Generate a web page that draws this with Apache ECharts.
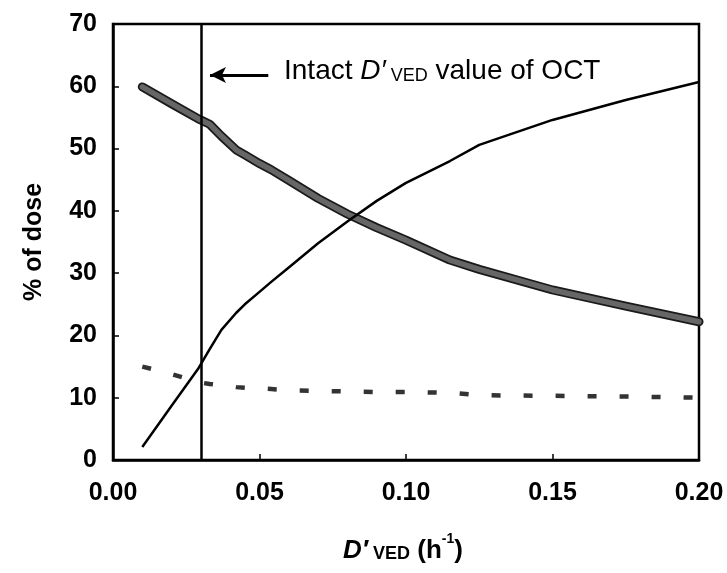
<!DOCTYPE html>
<html>
<head>
<meta charset="utf-8">
<script src="https://cdn.jsdelivr.net/npm/echarts@6/dist/echarts.min.js"></script>
<style>
  html, body { margin: 0; padding: 0; background: #fff; }
  #chart { width: 727px; height: 573px; }
</style>
</head>
<body>
<div id="chart"></div>
<script>
// Elimination rate constant D'VED (h^-1)
const dVed = [0.01, 0.02, 0.029, 0.033, 0.037, 0.042, 0.045, 0.05, 0.054, 0.06,
              0.07, 0.08, 0.09, 0.10, 0.115, 0.125, 0.15, 0.175, 0.20];
// % of dose, rising curve (thin black)
const risingPct = [2.1, 8.7, 14.6, 17.8, 20.9, 23.6, 25.0, 27.0, 28.6, 30.9,
                   34.8, 38.3, 41.6, 44.5, 48.0, 50.6, 54.6, 57.8, 60.7];
// % of dose, falling curve (thick grey)
const fallingPct = [59.9, 57.2, 54.8, 53.9, 52.0, 49.8, 49.0, 47.6, 46.6, 44.9,
                    42.0, 39.5, 37.3, 35.3, 32.1, 30.6, 27.3, 24.7, 22.2];
// % of dose, dashed curve
const dashedPct = [15.0, 13.8, 12.5, 12.2, 12.0, 11.7, 11.6, 11.5, 11.4, 11.2,
                   11.1, 11.0, 10.9, 10.9, 10.8, 10.4, 10.3, 10.2, 10.0];
// Intact D'VED value of OCT
const intactDVed = 0.0289;
const xTicks = [0, 0.05, 0.10, 0.15, 0.20];
const yTicks = [0, 10, 20, 30, 40, 50, 60, 70];

const pairs = ys => dVed.map((x, i) => [x, ys[i]]);
const FONT = '"Liberation Sans", Arial, sans-serif';

const chart = echarts.init(document.getElementById('chart'), null, { renderer: 'canvas' });

chart.setOption({
  backgroundColor: '#ffffff',
  animation: false,
  grid: {
    left: 113, right: 28, top: 24, bottom: 113,
    show: true, borderColor: '#000', borderWidth: 2.5, backgroundColor: 'transparent'
  },
  xAxis: {
    type: 'value',
    min: xTicks[0], max: xTicks[xTicks.length - 1], interval: 0.05,
    axisLine: { show: true, lineStyle: { color: '#000', width: 2.5 } },
    axisTick: { show: true, inside: true, length: 6, lineStyle: { color: '#000', width: 1.5 } },
    splitLine: { show: false },
    axisLabel: {
      margin: 21, color: '#000', fontFamily: FONT, fontWeight: 'bold', fontSize: 25,
      formatter: v => v.toFixed(2)
    }
  },
  yAxis: {
    type: 'value',
    min: yTicks[0], max: yTicks[yTicks.length - 1], interval: 10,
    axisLine: { show: true, lineStyle: { color: '#000', width: 2.5 } },
    axisTick: { show: true, inside: true, length: 6, lineStyle: { color: '#000', width: 1.5 } },
    splitLine: { show: false },
    axisLabel: { margin: 16, color: '#000', fontFamily: FONT, fontWeight: 'bold', fontSize: 25 },
    name: '% of dose',
    nameLocation: 'middle',
    nameGap: 66,
    nameRotate: 90,
    nameTextStyle: { color: '#000', fontFamily: FONT, fontWeight: 'bold', fontSize: 25 }
  },
  series: [
    {
      // dark outline of the thick falling curve
      type: 'line', data: pairs(fallingPct), showSymbol: false, smooth: false,
      lineStyle: { color: '#1a1a1a', width: 9, cap: 'round', join: 'round' }, z: 3
    },
    {
      type: 'line', data: pairs(fallingPct), showSymbol: false, smooth: false,
      lineStyle: { color: '#666666', width: 5.5, cap: 'round', join: 'round' }, z: 4
    },
    {
      type: 'line', data: pairs(risingPct), showSymbol: false, smooth: false,
      lineStyle: { color: '#000', width: 2.5, join: 'round' }, z: 5
    },
    {
      type: 'line', data: pairs(dashedPct), showSymbol: false, smooth: false,
      lineStyle: { color: '#333', width: 4.5, type: [9, 23] }, z: 5,
      markLine: {
        silent: true, symbol: ['none', 'none'], label: { show: false },
        lineStyle: { color: '#000', width: 2.5, type: 'solid' },
        data: [{ xAxis: intactDVed }]
      }
    },
    {
      // arrow pointing at the intact value line
      type: 'line', data: [], z: 6,
      markLine: {
        silent: true, symbol: ['none', 'arrow'], symbolSize: [12, 16],
        label: { show: false },
        lineStyle: { color: '#000', width: 3, type: 'solid' },
        itemStyle: { color: '#555', borderColor: '#000', borderWidth: 1 },
        data: [[{ coord: [0.053, 61.8] }, { coord: [0.0331, 61.8] }]]
      }
    }
  ],
  graphic: [
    {
      type: 'text', left: 284, top: 57, z: 10,
      style: {
        text: '{n|Intact }{i|D\u2032}{s| VED}{n| value of OCT}',
        rich: {
          n: { fontFamily: FONT, fontSize: 28, color: '#000', lineHeight: 33, verticalAlign: 'bottom' },
          i: { fontFamily: FONT, fontSize: 28, fontStyle: 'italic', color: '#000', lineHeight: 33, verticalAlign: 'bottom' },
          s: { fontFamily: FONT, fontSize: 18, color: '#000', lineHeight: 21, verticalAlign: 'bottom' }
        }
      }
    },
    {
      type: 'text', x: 403, y: 548, z: 10,
      style: {
        align: 'center', verticalAlign: 'middle',
        text: '{i|D\u2032}{s| VED}{n| (h}{p|-1}{n|)}',
        rich: {
          n: { fontFamily: FONT, fontSize: 26, fontWeight: 'bold', color: '#000', lineHeight: 31, verticalAlign: 'bottom' },
          i: { fontFamily: FONT, fontSize: 26, fontWeight: 'bold', fontStyle: 'italic', color: '#000', lineHeight: 31, verticalAlign: 'bottom' },
          s: { fontFamily: FONT, fontSize: 18, fontWeight: 'bold', color: '#000', lineHeight: 22, verticalAlign: 'bottom' },
          p: { fontFamily: FONT, fontSize: 14, fontWeight: 'bold', color: '#000', lineHeight: 20, verticalAlign: 'top' }
        }
      }
    }
  ]
});
</script>
</body>
</html>
